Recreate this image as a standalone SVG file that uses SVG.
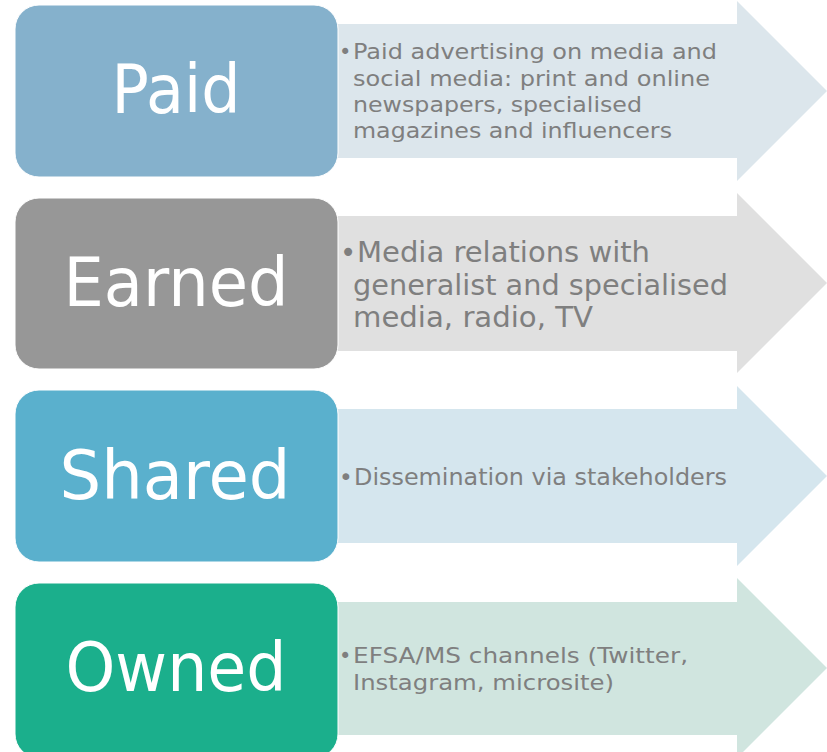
<svg xmlns="http://www.w3.org/2000/svg" width="827" height="752" viewBox="0 0 827 752">
<style>
.lbl{font-family:"DejaVu Sans","Verdana",sans-serif;fill:#ffffff;text-anchor:middle;font-size:67px}
.txt{font-family:"DejaVu Sans","Verdana",sans-serif;fill:#7f7f7f}
.box{stroke:#ffffff;stroke-width:1}
</style>
<rect width="827" height="752" fill="#ffffff"/>
<g id="connectors">
<polygon id="arrow-paid" points="338,24 737,24 737,1 827,91 737,181 737,158 338,158" fill="#dce6ec"/>
<polygon id="arrow-earned" points="338,216 737,216 737,193 827,283 737,373 737,351 338,351" fill="#e0e0e0"/>
<polygon id="arrow-shared" points="338,409 737,409 737,386 827,476 737,566 737,543 338,543" fill="#d5e6ee"/>
<polygon id="arrow-owned" points="338,602 737,602 737,578 827,668 737,758 737,735 338,735" fill="#d0e5df"/>
</g>
<g id="paid">
<rect class="box" x="15" y="5" width="323" height="172" rx="24" fill="#85b1cc"/>
<text class="lbl" x="176" y="113" textLength="129" lengthAdjust="spacingAndGlyphs">Paid</text>
<g class="txt" font-size="21">
<text x="339" y="59">•</text>
<text x="353" y="59" textLength="364" lengthAdjust="spacingAndGlyphs">Paid advertising on media and</text>
<text x="353" y="85.5" textLength="357" lengthAdjust="spacingAndGlyphs">social media: print and online</text>
<text x="353" y="112" textLength="289" lengthAdjust="spacingAndGlyphs">newspapers, specialised</text>
<text x="353" y="138" textLength="319" lengthAdjust="spacingAndGlyphs">magazines and influencers</text>
</g>
</g>
<g id="earned">
<rect class="box" x="15" y="198" width="323" height="171" rx="24" fill="#979797"/>
<text class="lbl" x="176" y="306" textLength="225" lengthAdjust="spacingAndGlyphs">Earned</text>
<g class="txt" font-size="27.5">
<text x="340" y="262">•</text>
<text x="357" y="262" textLength="293" lengthAdjust="spacingAndGlyphs">Media relations with</text>
<text x="353" y="295" textLength="375" lengthAdjust="spacingAndGlyphs">generalist and specialised</text>
<text x="353" y="327" textLength="240" lengthAdjust="spacingAndGlyphs">media, radio, TV</text>
</g>
</g>
<g id="shared">
<rect class="box" x="15" y="390" width="323" height="172" rx="24" fill="#5ab0cd"/>
<text class="lbl" x="175" y="499" textLength="231" lengthAdjust="spacingAndGlyphs">Shared</text>
<g class="txt" font-size="23.3">
<text x="339" y="484.5">•</text>
<text x="354" y="484.5" textLength="373" lengthAdjust="spacingAndGlyphs">Dissemination via stakeholders</text>
</g>
</g>
<g id="owned">
<rect class="box" x="15" y="583" width="323" height="175" rx="24" fill="#1baf8c"/>
<text class="lbl" x="176" y="691" textLength="221" lengthAdjust="spacingAndGlyphs">Owned</text>
<g class="txt" font-size="21">
<text x="339" y="663">•</text>
<text x="353" y="663" textLength="335" lengthAdjust="spacingAndGlyphs">EFSA/MS channels (Twitter,</text>
<text x="353" y="689.5" textLength="261" lengthAdjust="spacingAndGlyphs">Instagram, microsite)</text>
</g>
</g>
</svg>
